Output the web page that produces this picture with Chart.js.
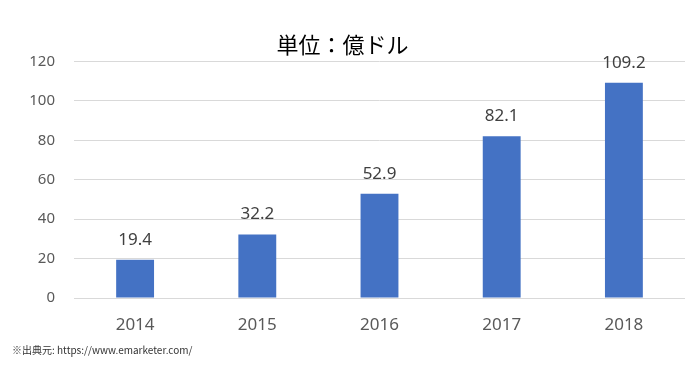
<!DOCTYPE html>
<html>
<head>
<meta charset="utf-8">
<script src="https://cdn.jsdelivr.net/npm/chart.js@4"></script>
<style>
  html, body { margin: 0; padding: 0; background: #fff; }
  #wrap { width: 697px; height: 371px; position: relative; }
</style>
</head>
<body>
<div id="wrap"><canvas id="mybarchart" width="697" height="371"></canvas></div>
<script>
const years = ['2014', '2015', '2016', '2017', '2018']
const sales = [19.4, 32.2, 52.9, 82.1, 109.2]
const yTicks = [0, 20, 40, 60, 80, 100, 120]
const titleText = '単位：億ドル'
const sourceText = '※出典元: https://www.emarketer.com/'

// value labels above bars + source note
const labelsPlugin = {
    id: 'labelsPlugin',
    afterDatasetsDraw(chart) {
        const ctx = chart.ctx
        const meta = chart.getDatasetMeta(0)
        ctx.save()
        ctx.fillStyle = '#404040'
        ctx.font = '17px "Noto Sans", sans-serif'
        ctx.textAlign = 'center'
        ctx.textBaseline = 'middle'
        meta.data.forEach(function(bar, i){
            ctx.fillText(sales[i].toFixed(1), bar.x, bar.y - 20)
        })
        ctx.fillStyle = '#333'
        ctx.font = '10px "Noto Sans CJK JP", sans-serif'
        ctx.textAlign = 'left'
        ctx.fillText(sourceText, 12, 350)
        ctx.restore()
    }
}

const canvasforbars = document.getElementById('mybarchart')
new Chart(canvasforbars, {
    type: 'bar',
    data: {
        labels: years,
        datasets: [{
            data: sales,
            backgroundColor: '#4472C4',
            barPercentage: 1,
            categoryPercentage: 0.31
        }]
    },
    options: {
        responsive: false,
        animation: false,
        layout: { padding: { left: 0, right: 12, top: 0, bottom: 0 } },
        plugins: {
            legend: { display: false },
            tooltip: { enabled: false },
            title: {
                display: true,
                text: titleText,
                color: '#000',
                font: { family: '"Noto Sans CJK JP", sans-serif', size: 22, weight: 'normal' },
                padding: { top: 31, bottom: 4 }
            }
        },
        scales: {
            x: {
                grid: { display: false },
                border: { display: false },
                ticks: {
                    color: '#595959',
                    font: { family: '"Noto Sans", sans-serif', size: 17 },
                    padding: 9
                },
                afterFit: function(scale){ scale.height = 73 }
            },
            y: {
                min: 0,
                max: 120,
                afterBuildTicks: function(scale){
                    scale.ticks = yTicks.map(function(v){ return { value: v } })
                },
                grid: { color: '#D9D9D9', drawTicks: false },
                border: { display: false },
                ticks: {
                    color: '#595959',
                    font: { family: '"Noto Sans", sans-serif', size: 15 },
                    padding: 19
                },
                afterFit: function(scale){ scale.width = 74 }
            }
        }
    },
    plugins: [labelsPlugin]
})
</script>
</body>
</html>
